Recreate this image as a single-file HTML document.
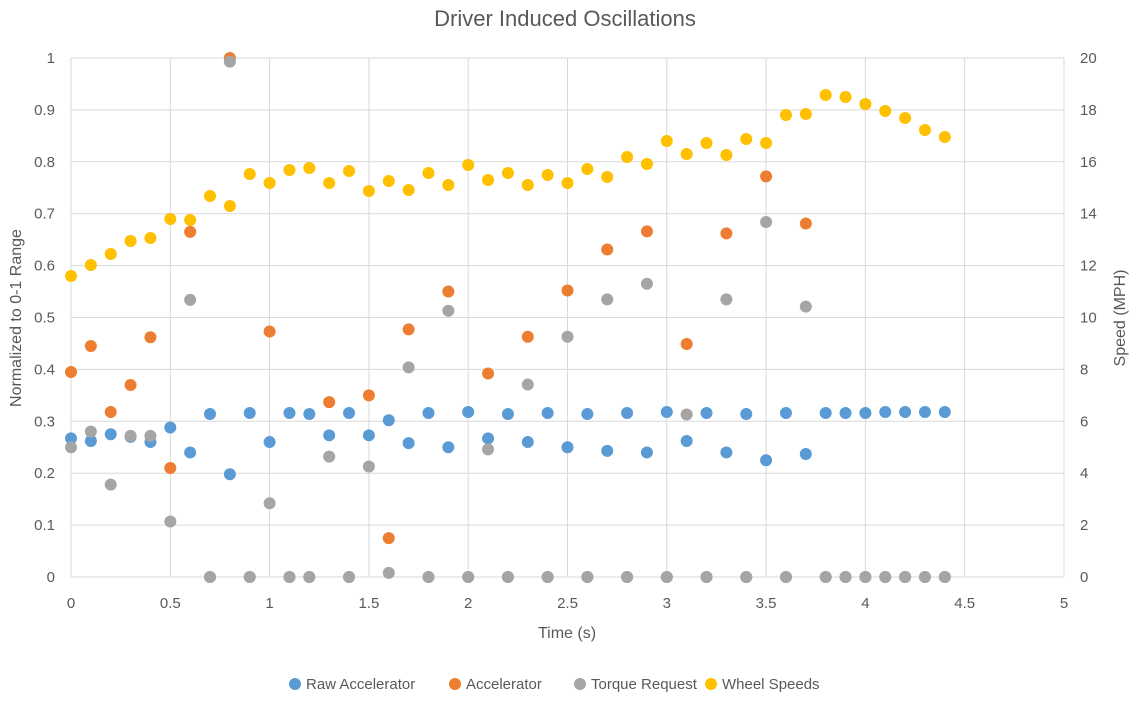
<!DOCTYPE html>
<html><head><meta charset="utf-8"><style>
html,body{margin:0;padding:0;background:#fff}
svg text{font-family:"Liberation Sans",sans-serif;fill:#595959}
</style></head><body>
<svg id="c" width="1131" height="697" xmlns="http://www.w3.org/2000/svg">
<rect width="1131" height="697" fill="#fff"/>
<text x="565" y="26" font-size="22" text-anchor="middle">Driver Induced Oscillations</text>
<g id="grid"></g>
<g id="pts"></g>
<text x="567" y="638" font-size="16" text-anchor="middle">Time (s)</text>
<text transform="translate(21,318) rotate(-90)" font-size="16" text-anchor="middle">Normalized to 0-1 Range</text>
<text transform="translate(1125,318) rotate(-90)" font-size="16" text-anchor="middle">Speed (MPH)</text>
<g font-size="15">
<circle cx="295" cy="684" r="6" fill="#5B9BD5"/><text x="306" y="689">Raw Accelerator</text>
<circle cx="455" cy="684" r="6" fill="#ED7D31"/><text x="466" y="689">Accelerator</text>
<circle cx="580" cy="684" r="6" fill="#A5A5A5"/><text x="591" y="689">Torque Request</text>
<circle cx="711" cy="684" r="6" fill="#FFC000"/><text x="722" y="689">Wheel Speeds</text>
</g>
</svg>
<script>
var X0=71,XS=198.6,Y0=577,YS=519,ns="http://www.w3.org/2000/svg";
var g=document.getElementById('grid'),p=document.getElementById('pts');
function el(par,t,a,txt){var e=document.createElementNS(ns,t);for(var k in a)e.setAttribute(k,a[k]);if(txt!==undefined)e.textContent=txt;par.appendChild(e);return e;}
for(var i=0;i<=10;i++){var y=Y0-i*YS/10;
el(g,'line',{x1:X0,x2:1064,y1:y,y2:y,stroke:'#D9D9D9','stroke-width':1});
el(g,'text',{x:55,y:y+5,'font-size':15,'text-anchor':'end'},String(+(i/10).toFixed(1)));
el(g,'text',{x:1080,y:y+5,'font-size':15},String(i*2));}
for(var i=0;i<=10;i++){var x=X0+i*XS/2;
el(g,'line',{x1:x,x2:x,y1:58,y2:Y0,stroke:'#D9D9D9','stroke-width':1});
el(g,'text',{x:x,y:608,'font-size':15,'text-anchor':'middle'},String(i/2));}
var blue=[.267,.262,.275,.270,.260,.288,.240,.314,.198,.316,.260,.316,.314,.273,.316,.273,.302,.258,.316,.250,.318,.267,.314,.260,.316,.250,.314,.243,.316,.240,.318,.262,.316,.240,.314,.225,.316,.237,.316,.316,.316,.318,.318,.318,.318];
var orange=[.395,.445,.318,.370,.462,.210,.665,0,1,0,.473,0,0,.337,0,.350,.075,.477,0,.550,0,.392,0,.463,0,.552,0,.631,0,.666,0,.449,0,.662,0,.772,0,.681,0,0,0,0,0,0,0];
var gray=[.250,.280,.178,.272,.272,.107,.534,0,.993,0,.142,0,0,.232,0,.213,.008,.404,0,.513,0,.246,0,.371,0,.463,0,.535,0,.565,0,.313,0,.535,0,.684,0,.521,0,0,0,0,0,0,0];
var wy=[276,265,254,241,238,219,220,196,206,174,183,170,168,183,171,191,181,190,173,185,165,180,173,185,175,183,169,177,157,164,141,154,143,155,139,143,115,114,95,97,104,111,118,130,137];
function s(d,c){d.forEach(function(v,i){el(p,'circle',{cx:X0+i*0.1*XS,cy:Y0-v*YS,r:6,fill:c});});}
s(blue,'#5B9BD5');s(orange,'#ED7D31');s(gray,'#A5A5A5');
wy.forEach(function(v,i){el(p,'circle',{cx:X0+i*0.1*XS,cy:v,r:6,fill:'#FFC000'});});
</script>
</body></html>
